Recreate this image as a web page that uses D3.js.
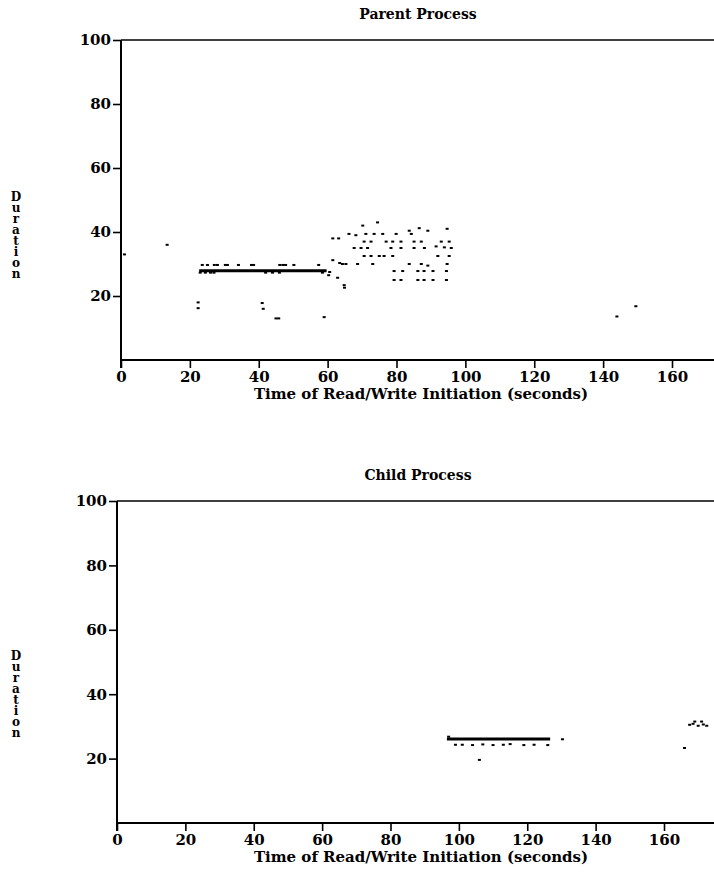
<!DOCTYPE html>
<html>
<head>
<meta charset="utf-8">
<script src="https://cdn.jsdelivr.net/npm/d3@7"></script>
<style>
  body { margin: 0; background: #fff; }
  svg { display: block; }
  text { font-family: "DejaVu Serif", serif; font-weight: bold; fill: #000; }
  .ylab { writing-mode: vertical-rl; text-orientation: upright; }
</style>
</head>
<body>
<svg id="chart"></svg>
<script>
// x ticks (seconds) and y ticks (duration) shared by both panels
const xTicks = [0, 20, 40, 60, 80, 100, 120, 140, 160];
const yTicks = [20, 40, 60, 80, 100];
const yLabel = "Duration";

// parent process: solid runs [start, end, duration]
const parentRuns = [[22.7, 59.7, 27.9]];
// parent process: single reads/writes
const parentTime = [
  1, 13.4, 22.4, 22.4, 41, 41.3, 45, 45.8, 59, 144, 149.5,
  23.6, 25.1, 27.1, 28, 30.3, 30.9, 34.1, 37.9, 38.5, 46.1, 47, 47.8, 50.2, 57.4,
  23, 24.5, 26, 27, 42, 44, 46, 58.5,
  60.3, 60.6, 62.9, 61.5, 63.2, 61.5, 63.5, 64.8, 64.9,
  70.2, 74.5,
  66.2, 68.2, 71.1, 73.5, 76, 79.9, 83.7, 84.3, 86.6, 89.1, 94.7,
  70.6, 72.6, 77, 78.9, 81.3, 85.1, 87.2, 93, 95.3,
  67.7, 69.7, 71.6, 78.4, 81.3, 85.1, 88.1, 91.5, 93.9, 95.9,
  70.6, 72.6, 75, 76.4, 78.9, 92, 95.3,
  64.3, 65.3, 68.7, 73.1, 83.7, 87.2, 89.1, 94.7,
  79.3, 81.8, 86.2, 88, 90.6, 94.5,
  79.3, 81.3, 86.2, 88, 90.6, 94.5
];
const parentDuration = [
  33, 36, 16.2, 18, 17.8, 16, 13, 13, 13.4, 13.6, 16.8,
  29.7, 29.7, 29.7, 29.7, 29.7, 29.7, 29.7, 29.7, 29.7, 29.7, 29.7, 29.7, 29.7, 29.7,
  27.3, 27.3, 27.3, 27.3, 27.3, 27.3, 27.3, 27.3,
  26.5, 27.5, 25.7, 38, 38, 31.2, 30.3, 23.4, 22.6,
  42, 43,
  39.4, 39, 39.4, 39.4, 39.4, 39.4, 40.4, 39.4, 41.2, 40.4, 41,
  37, 37, 37, 37, 37, 37, 37, 37, 37,
  35, 35, 35, 35, 35, 35, 35, 35.5, 35.2, 35,
  32.5, 32.5, 32.5, 32.5, 32.5, 32.5, 32.5,
  30, 30, 30, 30, 30, 30, 29.5, 30,
  27.8, 27.8, 27.8, 27.8, 27.8, 27.8,
  25, 25, 25, 25, 25, 25
];

// child process: solid runs [start, end, duration]
const childRuns = [[96.5, 126.7, 26.1]];
const childTime = [
  130.3, 97, 99, 101, 104, 107, 110, 113, 115, 119, 122, 126, 106,
  166, 167.5, 168.5, 170, 171.5, 172.5, 169, 171
];
const childDuration = [
  26, 26.8, 24.3, 24.3, 24.2, 24.4, 24.2, 24.3, 24.5, 24.2, 24.3, 24.2, 19.6,
  23.3, 30.5, 30.8, 30.2, 30.6, 30.2, 31.5, 31.5
];

const width = 714, height = 881;
const svg = d3.select("#chart").attr("width", width).attr("height", height);

function panel(cfg) {
  const x = d3.scaleLinear().domain([0, 160]).range([cfg.left, cfg.x160]);
  const y = d3.scaleLinear().domain([0, 100]).range([cfg.bottom, cfg.top]);
  const g = svg.append("g");

  // top frame line
  g.append("line")
    .attr("x1", cfg.left).attr("x2", width)
    .attr("y1", cfg.top).attr("y2", cfg.top)
    .attr("stroke", "#000").attr("stroke-width", 1.6);

  // x axis
  const xa = g.append("g")
    .attr("transform", `translate(0,${cfg.bottom})`)
    .call(d3.axisBottom(x).tickValues(xTicks).tickSize(8).tickPadding(3).tickFormat(d3.format("d")));
  xa.select(".domain").remove();
  xa.append("line").attr("x1", cfg.left).attr("x2", width)
    .attr("stroke", "#000").attr("stroke-width", 2);
  xa.selectAll(".tick line").attr("stroke-width", 1.6);
  xa.selectAll("text").attr("font-size", 15);

  // y axis
  const ya = g.append("g")
    .attr("transform", `translate(${cfg.left},0)`)
    .call(d3.axisLeft(y).tickValues(yTicks).tickSize(8).tickPadding(2));
  ya.select(".domain").remove();
  ya.append("line").attr("y1", cfg.top).attr("y2", cfg.bottom + 8)
    .attr("stroke", "#000").attr("stroke-width", 2);
  ya.selectAll(".tick line").attr("stroke-width", 1.6);
  ya.selectAll("text").attr("font-size", 15);

  // title and labels
  g.append("text").attr("x", 418).attr("y", cfg.top - 21)
    .attr("text-anchor", "middle").attr("font-size", 14).text(cfg.title);
  g.append("text").attr("x", 421).attr("y", cfg.bottom + 39)
    .attr("text-anchor", "middle").attr("font-size", 15)
    .text("Time of Read/Write Initiation (seconds)");
  g.append("text").attr("class", "ylab")
    .attr("x", 16).attr("y", cfg.labelTop)
    .attr("font-size", 12).attr("letter-spacing", -3)
    .text(yLabel);

  // solid runs
  g.append("g").selectAll("line").data(cfg.runs).join("line")
    .attr("x1", d => x(d[0])).attr("x2", d => x(d[1]))
    .attr("y1", d => y(d[2])).attr("y2", d => y(d[2]))
    .attr("stroke", "#000").attr("stroke-width", 3);

  // single events
  g.append("g").selectAll("rect").data(d3.range(cfg.time.length)).join("rect")
    .attr("x", i => x(cfg.time[i]) - 1.5)
    .attr("y", i => y(cfg.duration[i]) - 1)
    .attr("width", 3).attr("height", 2)
    .attr("fill", "#000");
}

panel({
  title: "Parent Process", left: 121, x160: 672, top: 40, bottom: 360, labelTop: 190,
  runs: parentRuns, time: parentTime, duration: parentDuration
});
panel({
  title: "Child Process", left: 117, x160: 664, top: 501, bottom: 823, labelTop: 649,
  runs: childRuns, time: childTime, duration: childDuration
});
</script>
</body>
</html>
